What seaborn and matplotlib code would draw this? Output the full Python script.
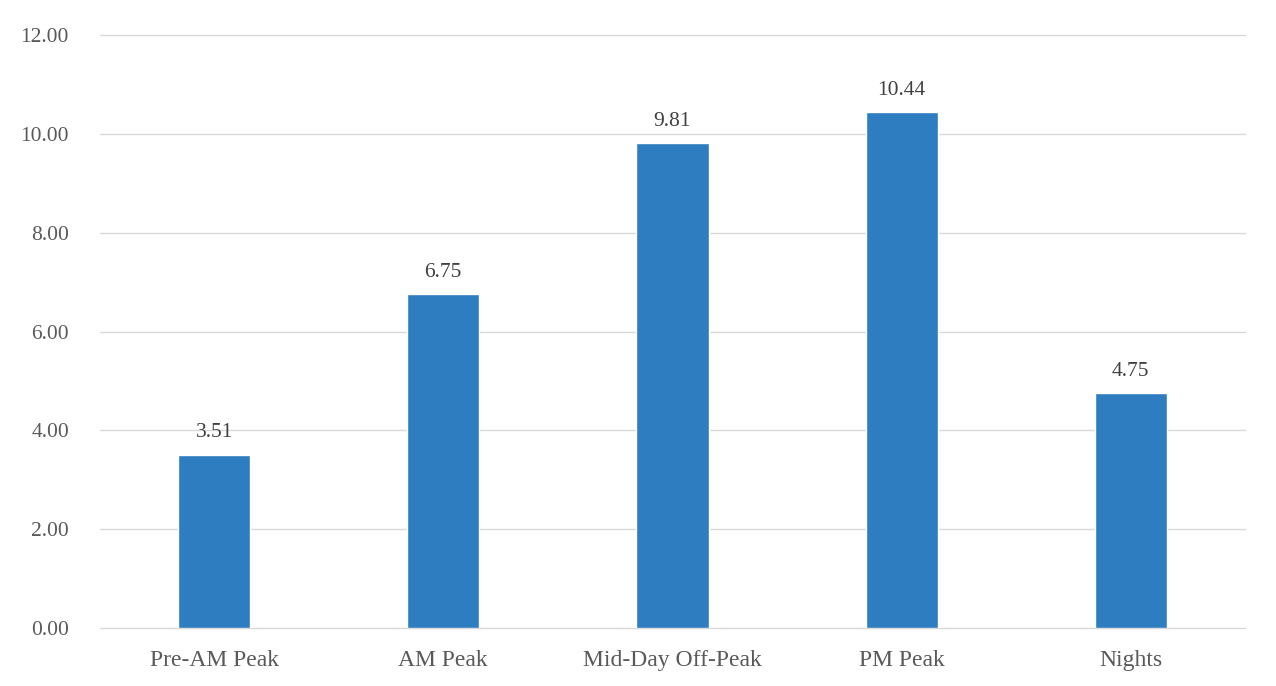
import matplotlib
matplotlib.use("Agg")
import matplotlib.pyplot as plt
import seaborn as sns
import pandas as pd

categories = ["Pre-AM Peak", "AM Peak", "Mid-Day Off-Peak", "PM Peak", "Nights"]
values = [3.51, 6.75, 9.81, 10.44, 4.75]
y_ticks = [0.0, 2.0, 4.0, 6.0, 8.0, 10.0, 12.0]

df = pd.DataFrame({"period": categories, "value": values})

sns.set_theme(style="white")
plt.rcParams["font.family"] = ["Liberation Serif", "DejaVu Serif"]

fig = plt.figure(figsize=(12.76, 6.86), dpi=100)
ax = fig.add_axes([0.078, 0.0845, 0.898, 0.8645])

sns.barplot(data=df, x="period", y="value", color="#2E7DC0", width=0.315,
            saturation=1, ax=ax, zorder=3)

ax.set_ylim(0, 12)
ax.set_yticks(y_ticks)
ax.set_yticklabels([f"{t:.2f}" for t in y_ticks])
ax.set_xlim(-0.5, len(categories) - 0.5)
ax.yaxis.grid(True, color="#d9d9d9", linewidth=1.0, zorder=0)
for gl in ax.yaxis.get_gridlines():
    gl.set_clip_on(False)
ax.set_axisbelow(True)
for s in ax.spines.values():
    s.set_visible(False)
ax.set_xlabel("")
ax.set_ylabel("")
ax.tick_params(axis="both", length=0, colors="#595959")
ax.tick_params(axis="y", pad=22, labelsize=15.5)
ax.tick_params(axis="x", pad=16, labelsize=17)

for i, v in enumerate(values):
    ax.annotate(f"{v:.2f}", (i, v), xytext=(0, 9), textcoords="offset points",
                ha="center", va="bottom", fontsize=15.5, color="#404040")

fig.savefig("out.png", dpi=100)
